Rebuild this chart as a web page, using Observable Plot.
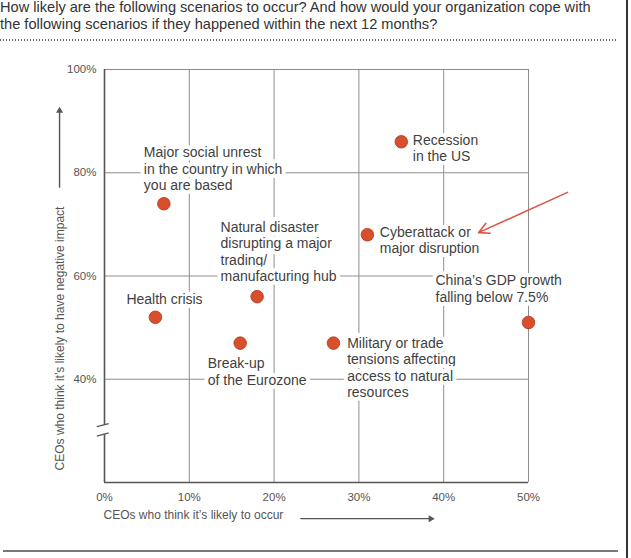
<!DOCTYPE html>
<html>
<head>
<meta charset="utf-8">
<script src="https://cdn.jsdelivr.net/npm/d3@7"></script>
<script src="https://cdn.jsdelivr.net/npm/@observablehq/plot@0.6"></script>
<style>
  body { margin: 0; background: #fff; }
  #page { position: relative; width: 631px; height: 558px; overflow: hidden;
          font-family: "Liberation Sans", Arial, Helvetica, sans-serif; }
  #title { position: absolute; left: 0; top: -1px; font-size: 14.6px; line-height: 17px;
           color: #333; white-space: nowrap; z-index: 2; }
  #dotted { position: absolute; left: 0; top: 39px; width: 618px; height: 2px; z-index: 2;
            background: repeating-linear-gradient(to right, #666 0 1.5px, transparent 1.5px 3px); }
  #rule-bottom { position: absolute; left: 3px; top: 550px; width: 615px; height: 2px; background: #7a7a7a; z-index: 2; }
  #rule-right { position: absolute; left: 626px; top: 0; width: 2px; height: 558px; background: #333; z-index: 2; }
  #chart { position: absolute; left: 0; top: 0; }
</style>
</head>
<body>
<div id="page">
  <div id="title">How likely are the following scenarios to occur? And how would your organization cope with<br>the following scenarios if they happened within the next 12 months?</div>
  <div id="dotted"></div>
  <div id="chart"></div>
  <div id="rule-bottom"></div>
  <div id="rule-right"></div>
</div>
<script>
// Scenarios: share of CEOs who think each is likely to occur (x)
// and likely to have a negative impact (y), in percent.
const scenarios = [
  "Major social unrest\nin the country in which\nyou are based",
  "Natural disaster\ndisrupting a major\ntrading/\nmanufacturing hub",
  "Health crisis",
  "Break-up\nof the Eurozone",
  "Military or trade\ntensions affecting\naccess to natural\nresources",
  "China’s GDP growth\nfalling below 7.5%",
  "Recession\nin the US",
  "Cyberattack or\nmajor disruption"
];
const likelihood = [7, 18, 6, 16, 27, 50, 35, 31];
const impact = [74, 56, 52, 47, 47, 51, 86, 68];

const xTicks = [0, 10, 20, 30, 40, 50];
const yTicks = [40, 60, 80, 100];
const xDomain = [0, 50];
const yDomain = [20, 100];

const xTitle = "CEOs who think it’s likely to occur";
const yTitle = "CEOs who think it’s likely to have negative impact";

// Label placement relative to each dot, in pixels [dx, dy] (top-left of text block)
const labelOffsets = [
  [-20, -58], [-36.6, -76.6], [-29, -25.4], [-32.4, 13.6],
  [13.7, -7], [-93, -49], [11.5, -9], [12.4, -9.6]
];

// Annotation geometry in data units
const callout = [{x1: 54.6, y1: 76.2, x2: 44.1, y2: 68.4}];
const yArrow = [{x1: -5.3, y1: 77.1, x2: -5.3, y2: 92.4}];
const xArrow = [{x1: 23.1, y1: 13, x2: 38.7, y2: 13}];
const yAxisSegments = [{y1: 20, y2: 29.3}, {y1: 31.1, y2: 100}];
const axisBreak = [
  {x1: -0.9, y1: 29.0, x2: 0.5, y2: 29.6},
  {x1: -0.9, y1: 30.8, x2: 0.5, y2: 31.4}
];

const idx = d3.range(scenarios.length);
const pct = d => d + "%";
const axisGrey = "#555";
const gridGrey = "#8e8e8e";

const labelMarks = labelOffsets.map(([dx, dy], i) =>
  Plot.text([i], {
    x: j => likelihood[j], y: j => impact[j], text: j => scenarios[j],
    dx, dy, textAnchor: "start", lineAnchor: "top", lineHeight: 1.18,
    fontSize: 14, fill: "#3f3f3f", stroke: "white", strokeWidth: 8,
    strokeLinejoin: "round", paintOrder: "stroke"
  })
);

const chart = Plot.plot({
  width: 631,
  height: 558,
  marginTop: 69,
  marginBottom: 76,
  marginLeft: 104,
  marginRight: 103,
  style: {fontFamily: "'Liberation Sans', Arial, Helvetica, sans-serif", fontSize: "11.5px", color: axisGrey, background: "transparent"},
  x: {domain: xDomain, ticks: xTicks, tickSize: 0, tickPadding: 10, tickFormat: pct, label: null},
  y: {domain: yDomain, ticks: yTicks, tickSize: 0, tickPadding: 8, tickFormat: pct, label: null},
  marks: [
    Plot.ruleX(xTicks.slice(1), {stroke: gridGrey, strokeWidth: 1}),
    Plot.ruleY(yTicks, {stroke: gridGrey, strokeWidth: 1}),
    Plot.ruleY([yDomain[0]], {stroke: axisGrey, strokeWidth: 1.6}),
    Plot.ruleX(yAxisSegments, {x: 0, y1: "y1", y2: "y2", stroke: axisGrey, strokeWidth: 1.6}),
    Plot.link(axisBreak, {x1: "x1", y1: "y1", x2: "x2", y2: "y2", stroke: axisGrey, strokeWidth: 1.3}),
    ...labelMarks,
    Plot.dot(idx, {x: i => likelihood[i], y: i => impact[i], r: 6.3, fill: "#d94e2b", stroke: "#a8391f", strokeWidth: 0.8}),
    Plot.arrow(callout, {x1: "x1", y1: "y1", x2: "x2", y2: "y2", stroke: "#dc5646", strokeWidth: 1.6, headLength: 11, headAngle: 55}),
    // axis titles with their direction arrows
    Plot.text([yTitle], {frameAnchor: "left", dx: -44, dy: 62.5, rotate: -90, textAnchor: "middle", fontSize: 12, fill: axisGrey}),
    Plot.text([xTitle], {frameAnchor: "bottom-left", dx: -1, dy: 36, textAnchor: "start", fontSize: 12, fill: axisGrey}),
    Plot.link(yArrow, {x1: "x1", y1: "y1", x2: "x2", y2: "y2", stroke: axisGrey, strokeWidth: 1.4}),
    Plot.link(xArrow, {x1: "x1", y1: "y1", x2: "x2", y2: "y2", stroke: axisGrey, strokeWidth: 1.4}),
    Plot.dot(yArrow, {x: "x2", y: "y2", symbol: "triangle", r: 2.6, fill: axisGrey, stroke: null, dy: 2}),
    Plot.dot(xArrow, {x: "x2", y: "y2", symbol: "triangle", r: 2.6, rotate: 90, fill: axisGrey, stroke: null, dx: -2})
  ]
});

document.getElementById("chart").append(chart);
</script>
</body>
</html>
